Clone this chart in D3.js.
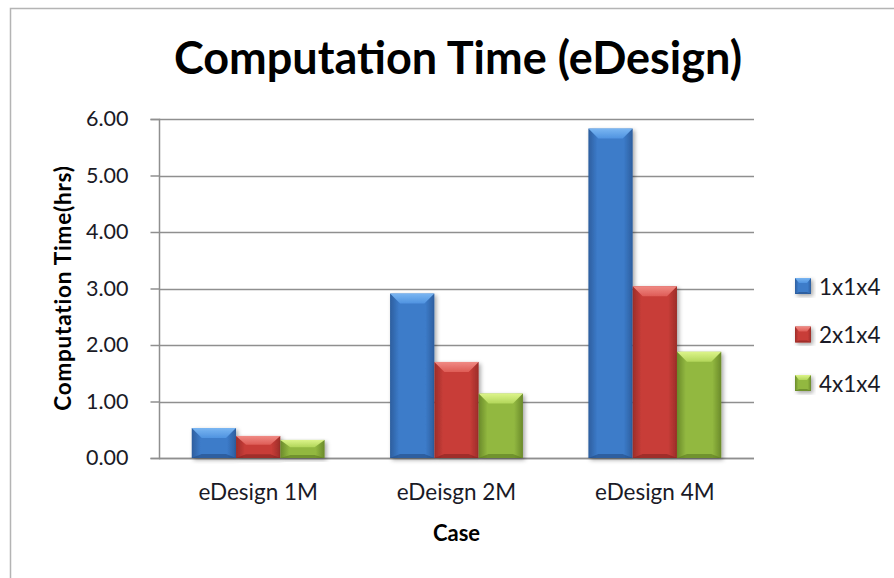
<!DOCTYPE html>
<html>
<head>
<meta charset="utf-8">
<script src="https://cdn.jsdelivr.net/npm/d3@7"></script>
<style>
  html, body { margin: 0; padding: 0; background: #fff; }
  svg { display: block; }
</style>
</head>
<body>
<svg id="chart" width="894" height="578"></svg>
<script>
// Data
const categories = ["eDesign 1M", "eDeisgn 2M", "eDesign 4M"];
const seriesNames = ["1x1x4", "2x1x4", "4x1x4"];
const series1x1x4 = [0.53, 2.91, 5.83];
const series2x1x4 = [0.39, 1.70, 3.04];
const series4x1x4 = [0.32, 1.14, 1.88];
const yTicks = [0, 1, 2, 3, 4, 5, 6];

const seriesValues = [series1x1x4, series2x1x4, series4x1x4];
const rows = categories.map((c, i) => ({
  category: c,
  values: seriesNames.map((s, j) => ({ series: s, value: seriesValues[j][i] }))
}));

// Bar palettes
const palette = {
  "1x1x4": { edge: "#2d5e9e", mid: "#3c7bc9", light: "#7ab6f2", bevel: "#4f93e0", bottom: "#244d85" },
  "2x1x4": { edge: "#9c2d29", mid: "#c83d38", light: "#f08a84", bevel: "#de5c56", bottom: "#862522" },
  "4x1x4": { edge: "#6a8a2a", mid: "#92b840", light: "#dcf48a", bevel: "#b2d65a", bottom: "#5c7a22" }
};

const svg = d3.select("#chart");
const font = "Lato, 'Open Sans', sans-serif";
const textColor = "#1a1a26";

// Chart frame
svg.append("rect")
  .attr("x", 10.5).attr("y", 8.5)
  .attr("width", 900).attr("height", 600)
  .attr("fill", "#fff").attr("stroke", "#b4b4b4").attr("stroke-width", 1.5);

const defs = svg.append("defs");
const shadow = defs.append("filter").attr("id", "barShadow")
  .attr("x", "-20%").attr("y", "-10%").attr("width", "150%").attr("height", "130%");
shadow.append("feDropShadow")
  .attr("dx", 2).attr("dy", 2).attr("stdDeviation", 2)
  .attr("flood-color", "#000").attr("flood-opacity", 0.35);

seriesNames.forEach((s, i) => {
  const p = palette[s];
  const g = defs.append("linearGradient").attr("id", "grad" + i)
    .attr("x1", "0%").attr("x2", "100%").attr("y1", "0%").attr("y2", "0%");
  g.append("stop").attr("offset", "0%").attr("stop-color", p.edge);
  g.append("stop").attr("offset", "20%").attr("stop-color", p.mid);
  g.append("stop").attr("offset", "80%").attr("stop-color", p.mid);
  g.append("stop").attr("offset", "100%").attr("stop-color", p.edge);
  const t = defs.append("linearGradient").attr("id", "top" + i)
    .attr("x1", "0%").attr("x2", "0%").attr("y1", "0%").attr("y2", "100%");
  t.append("stop").attr("offset", "0%").attr("stop-color", p.light);
  t.append("stop").attr("offset", "100%").attr("stop-color", p.bevel);
});

// Layout
const plotLeft = 159, plotRight = 754, plotTop = 119, plotBottom = 458;

const y = d3.scaleLinear().domain([0, 6]).range([plotBottom, plotTop]);
const x0 = d3.scaleBand().domain(categories).range([plotLeft, plotRight])
  .paddingInner(0.33).paddingOuter(0.165);
const x1 = d3.scaleBand().domain(seriesNames).range([0, x0.bandwidth()]);

// Title
svg.append("text")
  .attr("x", 458).attr("y", 74)
  .attr("text-anchor", "middle")
  .attr("font-family", font).attr("font-weight", 700).attr("font-size", 45)
  .attr("fill", "#000")
  .text("Computation Time (eDesign)");

// Gridlines
svg.append("g")
  .selectAll("line").data(yTicks).join("line")
  .attr("x1", plotLeft).attr("x2", plotRight)
  .attr("y1", d => Math.round(y(d)) + 0.5).attr("y2", d => Math.round(y(d)) + 0.5)
  .attr("stroke", "#8f8f8f").attr("stroke-width", 1.5);

// Y axis
const yAxis = d3.axisLeft(y).tickValues(yTicks).tickFormat(d3.format(".2f")).tickSize(9).tickPadding(22);
const yg = svg.append("g").attr("transform", `translate(${plotLeft + 0.5},0)`).call(yAxis);
yg.select(".domain").attr("stroke", "#8f8f8f").attr("stroke-width", 1.5)
  .attr("d", `M-9,${plotTop + 0.5}H0V${plotBottom + 0.5}H-9`);
yg.selectAll(".tick line").attr("stroke", "#8f8f8f").attr("stroke-width", 1.5);
yg.selectAll(".tick text")
  .attr("font-family", font).attr("font-size", 21.5).attr("fill", textColor);

// Y axis title
svg.append("text")
  .attr("transform", "translate(71,288) rotate(-90)")
  .attr("text-anchor", "middle")
  .attr("font-family", font).attr("font-weight", 700).attr("font-size", 22.5)
  .attr("letter-spacing", 0.8)
  .attr("fill", "#000")
  .text("Computation Time(hrs)");

// X axis line
svg.append("line")
  .attr("x1", plotLeft).attr("x2", plotRight)
  .attr("y1", plotBottom + 0.5).attr("y2", plotBottom + 0.5)
  .attr("stroke", "#8f8f8f").attr("stroke-width", 1.5);

// X axis labels
const xAxis = d3.axisBottom(x0).tickSize(0).tickPadding(26);
const xg = svg.append("g").attr("transform", `translate(0,${plotBottom})`).call(xAxis);
xg.select(".domain").remove();
xg.selectAll(".tick text")
  .attr("font-family", font).attr("font-size", 22.5).attr("fill", textColor);

svg.append("text")
  .attr("x", (plotLeft + plotRight) / 2).attr("y", 541)
  .attr("text-anchor", "middle")
  .attr("font-family", font).attr("font-weight", 700).attr("font-size", 22)
  .attr("fill", "#000")
  .text("Case");

// Bevelled bar drawing
function drawBevelBar(g, bx, by, bw, bh, i, maxBevel) {
  const p = palette[seriesNames[i]];
  const b = Math.min(maxBevel, bh * 0.4);
  const s = Math.min(maxBevel, bw / 4);
  g.append("rect").attr("x", bx).attr("y", by).attr("width", bw).attr("height", bh)
    .attr("fill", `url(#grad${i})`);
  // top bevel
  g.append("path")
    .attr("d", `M${bx},${by}H${bx + bw}L${bx + bw - s},${by + b}H${bx + s}Z`)
    .attr("fill", `url(#top${i})`);
  // bottom bevel
  const bb = Math.min(maxBevel * 0.4, bh / 6);
  g.append("path")
    .attr("d", `M${bx},${by + bh}H${bx + bw}L${bx + bw - s},${by + bh - bb}H${bx + s}Z`)
    .attr("fill", p.bottom).attr("opacity", 0.6);
}

const barsLayer = svg.append("g");
rows.forEach(r => {
  r.values.forEach((v, i) => {
    const bx = x0(r.category) + x1(v.series);
    const by = y(v.value);
    const bh = y(0) - y(v.value);
    const g = barsLayer.append("g").attr("filter", "url(#barShadow)");
    drawBevelBar(g, bx, by, x1.bandwidth(), bh, i, 10);
  });
});

// Legend
const legendY = d3.scalePoint().domain(seriesNames).range([286, 383]);
const legend = svg.append("g");
seriesNames.forEach((s, i) => {
  const cy = legendY(s);
  const g = legend.append("g").attr("filter", "url(#barShadow)");
  drawBevelBar(g, 795, cy - 8, 16, 16, i, 5);
  legend.append("text")
    .attr("x", 819).attr("y", cy)
    .attr("dominant-baseline", "central")
    .attr("font-family", font).attr("font-size", 22.5).attr("fill", textColor)
    .text(s);
});
</script>
</body>
</html>
